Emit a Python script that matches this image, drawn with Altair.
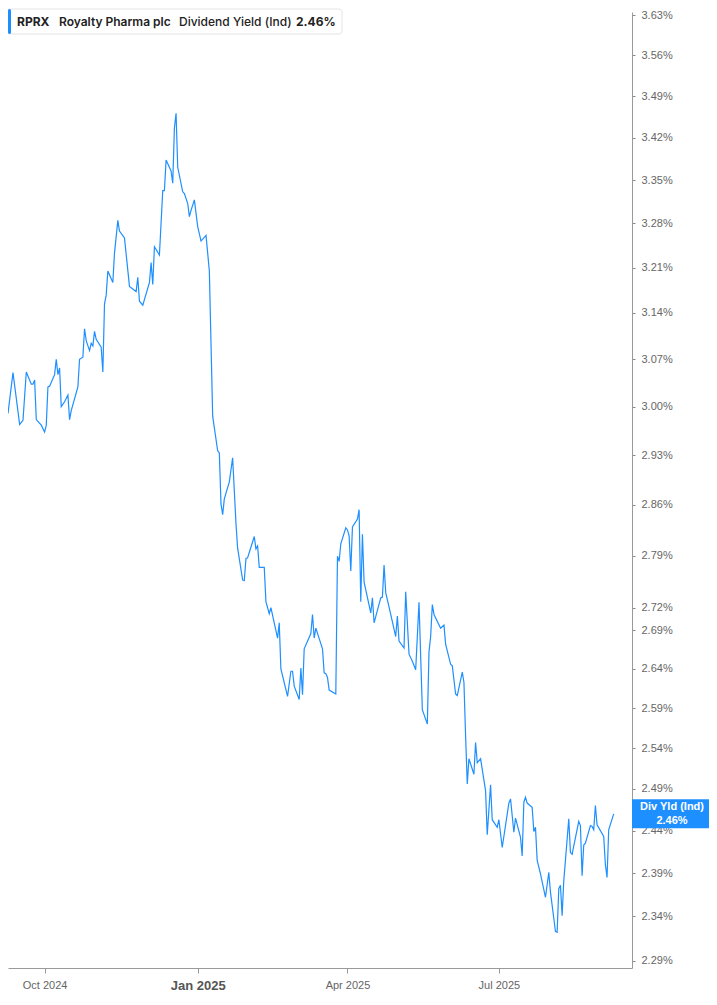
import altair as alt
import pandas as pd

# ---- data ----
dates = [
    "2024-09-09","2024-09-12","2024-09-16","2024-09-18","2024-09-20","2024-09-23","2024-09-24","2024-09-25","2024-09-26","2024-09-29",
    "2024-10-01","2024-10-02","2024-10-03","2024-10-04","2024-10-07","2024-10-08","2024-10-09","2024-10-10","2024-10-11","2024-10-13",
    "2024-10-15","2024-10-16","2024-10-17","2024-10-21","2024-10-22","2024-10-24","2024-10-25","2024-10-26","2024-10-28","2024-10-29",
    "2024-10-30","2024-10-31",
    "2024-11-01","2024-11-04","2024-11-05","2024-11-06","2024-11-07","2024-11-08","2024-11-11","2024-11-12","2024-11-14","2024-11-15",
    "2024-11-18","2024-11-21","2024-11-25","2024-11-26","2024-11-27","2024-11-29",
    "2024-12-03","2024-12-04","2024-12-05","2024-12-06","2024-12-09","2024-12-11","2024-12-12","2024-12-13","2024-12-16","2024-12-17",
    "2024-12-18","2024-12-19","2024-12-20","2024-12-23","2024-12-24","2024-12-26","2024-12-27","2024-12-28","2024-12-30",
    "2025-01-01","2025-01-03","2025-01-06","2025-01-08","2025-01-10","2025-01-13","2025-01-14","2025-01-15","2025-01-16","2025-01-17",
    "2025-01-20","2025-01-22","2025-01-24","2025-01-25","2025-01-28","2025-01-29","2025-01-30","2025-01-31",
    "2025-02-04","2025-02-05","2025-02-06","2025-02-07","2025-02-10","2025-02-11","2025-02-13","2025-02-14","2025-02-18","2025-02-19",
    "2025-02-20","2025-02-24","2025-02-26","2025-02-27","2025-02-28",
    "2025-03-03","2025-03-04","2025-03-05","2025-03-06","2025-03-10","2025-03-11","2025-03-12","2025-03-13","2025-03-17","2025-03-18",
    "2025-03-19","2025-03-20","2025-03-21","2025-03-25","2025-03-26","2025-03-27","2025-03-28","2025-03-31",
    "2025-04-01","2025-04-02","2025-04-03","2025-04-04","2025-04-07","2025-04-08","2025-04-09","2025-04-10","2025-04-11","2025-04-15",
    "2025-04-16","2025-04-17","2025-04-21","2025-04-22","2025-04-23","2025-04-24","2025-04-27","2025-04-30",
    "2025-05-01","2025-05-02","2025-05-05","2025-05-06","2025-05-08","2025-05-10","2025-05-12","2025-05-14","2025-05-16","2025-05-19",
    "2025-05-20","2025-05-21","2025-05-22","2025-05-23","2025-05-27","2025-05-29","2025-05-30",
    "2025-06-02","2025-06-03","2025-06-05","2025-06-06","2025-06-09","2025-06-10","2025-06-11","2025-06-12","2025-06-13","2025-06-16",
    "2025-06-17","2025-06-18","2025-06-20","2025-06-23","2025-06-24","2025-06-26","2025-06-27","2025-06-30",
    "2025-07-01","2025-07-03","2025-07-07","2025-07-08","2025-07-10","2025-07-11","2025-07-14","2025-07-15","2025-07-16","2025-07-17",
    "2025-07-18","2025-07-21","2025-07-22","2025-07-23","2025-07-24","2025-07-26","2025-07-29","2025-07-31",
    "2025-08-01","2025-08-04","2025-08-05","2025-08-06","2025-08-07","2025-08-08","2025-08-09","2025-08-12","2025-08-13","2025-08-14",
    "2025-08-18","2025-08-19","2025-08-20","2025-08-21","2025-08-22","2025-08-25","2025-08-26","2025-08-27","2025-08-28","2025-08-29",
    "2025-09-02","2025-09-03","2025-09-04","2025-09-05","2025-09-08",
]

yields = [
    2.99, 3.05, 2.974, 2.98, 3.051, 3.033, 3.033, 3.039, 2.981, 2.973,
    2.963, 2.973, 3.029, 3.03, 3.047, 3.07, 3.047, 3.057, 3.00, 3.007,
    3.017, 2.981, 2.994, 3.029, 3.07, 3.073, 3.116, 3.098, 3.083, 3.094,
    3.09, 3.112,
    3.10, 3.088, 3.051, 3.154, 3.167, 3.205, 3.187, 3.233, 3.285, 3.268,
    3.257, 3.181, 3.173, 3.195, 3.158, 3.152,
    3.187, 3.218, 3.184, 3.243, 3.23, 3.333, 3.333, 3.383, 3.365, 3.345,
    3.436, 3.461, 3.371, 3.331, 3.328, 3.312, 3.291, 3.301, 3.318,
    3.275, 3.252, 3.261, 3.205, 2.986, 2.936, 2.933, 2.861, 2.846, 2.868,
    2.892, 2.926, 2.834, 2.80, 2.757, 2.756, 2.786, 2.787,
    2.816, 2.799, 2.803, 2.774, 2.774, 2.728, 2.712, 2.72, 2.68, 2.70,
    2.64, 2.605, 2.637, 2.637, 2.618,
    2.601, 2.641, 2.607, 2.666, 2.686, 2.711, 2.68, 2.693, 2.666, 2.635,
    2.634, 2.629, 2.613, 2.608, 2.789, 2.782, 2.806, 2.828,
    2.825, 2.817, 2.769, 2.829, 2.84, 2.853, 2.728, 2.819, 2.754, 2.713,
    2.733, 2.70, 2.733, 2.734, 2.777, 2.74, 2.711, 2.682,
    2.709, 2.676, 2.667, 2.741, 2.659, 2.65, 2.639, 2.727, 2.588, 2.57,
    2.662, 2.682, 2.724, 2.711, 2.693, 2.697, 2.672,
    2.646, 2.644, 2.608, 2.606, 2.636, 2.623, 2.555, 2.496, 2.527, 2.508,
    2.547, 2.522, 2.527, 2.488, 2.435, 2.495, 2.453, 2.444,
    2.453, 2.42, 2.473, 2.478, 2.438, 2.455, 2.432, 2.41, 2.474, 2.48,
    2.473, 2.468, 2.439, 2.444, 2.405, 2.389, 2.362, 2.391,
    2.368, 2.323, 2.322, 2.372, 2.376, 2.341, 2.381, 2.454, 2.414, 2.412,
    2.451, 2.446, 2.387, 2.423, 2.425, 2.446, 2.445, 2.441, 2.47, 2.447,
    2.433, 2.40, 2.385, 2.441, 2.46,
]

y_ticks = [3.63, 3.56, 3.49, 3.42, 3.35, 3.28, 3.21, 3.14, 3.07, 3.00, 2.93,
           2.86, 2.79, 2.72, 2.69, 2.64, 2.59, 2.54, 2.49, 2.44, 2.39, 2.34, 2.29]
y_domain = [2.282, 3.636]
x_ticks = [(2024, 10), (2025, 1), (2025, 4), (2025, 7)]
x_domain = [(2024, 9, 9), (2025, 9, 19)]

header = pd.DataFrame({
    "ticker": ["RPRX"],
    "name": ["Royalty Pharma plc"],
    "metric": ["Dividend Yield (Ind)"],
    "value": ["2.46%"],
})
callout_title = "Div Yld (Ind)"

df = pd.DataFrame({"date": dates, "yld": yields})
last = df.tail(1).copy()
last["label"] = callout_title

W, H = 624, 956
BLUE = "#1E8FFF"

x_scale = alt.Scale(
    type="utc",
    domain=[alt.DateTime(year=y, month=m, date=d, utc=True) for (y, m, d) in x_domain],
)
y_scale = alt.Scale(type="log", domain=y_domain, nice=False, zero=False)

x_axis = alt.Axis(
    title=None,
    values=[alt.DateTime(year=y, month=m, date=1, utc=True) for (y, m) in x_ticks],
    labelExpr="utcFormat(datum.value, '%b %Y')",
    labelFont="Liberation Sans",
    labelFontSize={"condition": {"test": "utcmonth(datum.value) == 0", "value": 13}, "value": 11},
    labelFontWeight={"condition": {"test": "utcmonth(datum.value) == 0", "value": "bold"}, "value": "normal"},
    labelColor={"condition": {"test": "utcmonth(datum.value) == 0", "value": "#555555"}, "value": "#666666"},
    labelPadding=6,
    tickSize=5,
    tickColor="#999999",
    domainColor="#999999",
    grid=False,
)
y_axis = alt.Axis(
    title=None,
    orient="right",
    values=y_ticks,
    labelExpr="format(datum.value, '.2f') + '%'",
    labelFont="Liberation Sans",
    labelFontSize=11,
    labelColor="#666666",
    labelPadding=6,
    tickSize=3,
    tickColor="#888888",
    domainColor="#999999",
    grid=False,
)

line = alt.Chart(df).mark_line(color=BLUE, strokeWidth=1.2).encode(
    x=alt.X("date:T", scale=x_scale, axis=x_axis),
    y=alt.Y("yld:Q", scale=y_scale, axis=y_axis),
)

callout_box = alt.Chart(last).mark_rule(color=BLUE, strokeWidth=29, strokeCap="butt").encode(
    y=alt.Y("yld:Q", scale=y_scale),
    x=alt.value(W),
    x2=alt.value(W + 77),
)
callout_t1 = alt.Chart(last).mark_text(
    color="white", font="Liberation Sans", fontSize=11, fontWeight="bold", dy=-7
).encode(y=alt.Y("yld:Q", scale=y_scale), x=alt.value(W + 40), text="label:N")
callout_t2 = alt.Chart(last).transform_calculate(
    vtxt="format(datum.yld, '.2f') + '%'"
).mark_text(
    color="white", font="Liberation Sans", fontSize=11, fontWeight="bold", dy=7
).encode(y=alt.Y("yld:Q", scale=y_scale), x=alt.value(W + 40), text="vtxt:N")

hbox = alt.Chart(header).mark_rect(
    fill="white", stroke="#e4e4e4", strokeWidth=1, cornerRadius=3
).encode(x=alt.value(0), x2=alt.value(334), y=alt.value(-3), y2=alt.value(22))
hbar = alt.Chart(header).mark_rect(fill=BLUE, cornerRadius=1.5).encode(
    x=alt.value(0), x2=alt.value(3), y=alt.value(-3), y2=alt.value(22)
)
TXT = dict(font="Inter", fontSize=12, baseline="middle", align="left", color="#222222")
h1 = alt.Chart(header).mark_text(fontWeight=700, **TXT).encode(
    x=alt.value(9), y=alt.value(9.5), text="ticker:N")
h2 = alt.Chart(header).mark_text(fontWeight=600, **TXT).encode(
    x=alt.value(51), y=alt.value(9.5), text="name:N")
h3 = alt.Chart(header).mark_text(fontWeight=500, **TXT).encode(
    x=alt.value(171), y=alt.value(9.5), text="metric:N")
h4 = alt.Chart(header).mark_text(fontWeight=700, **TXT).encode(
    x=alt.value(288), y=alt.value(9.5), text="value:N")

chart = alt.layer(
    line, callout_box, callout_t1, callout_t2, hbox, hbar, h1, h2, h3, h4
).properties(
    width=W, height=H,
    padding={"left": 0, "top": 4, "right": 77, "bottom": 25},
    autosize=alt.AutoSizeParams(type="none"),
    background="white",
).configure_view(stroke=None)

chart.save("out.html", embed_options={"renderer": "svg", "actions": False})
